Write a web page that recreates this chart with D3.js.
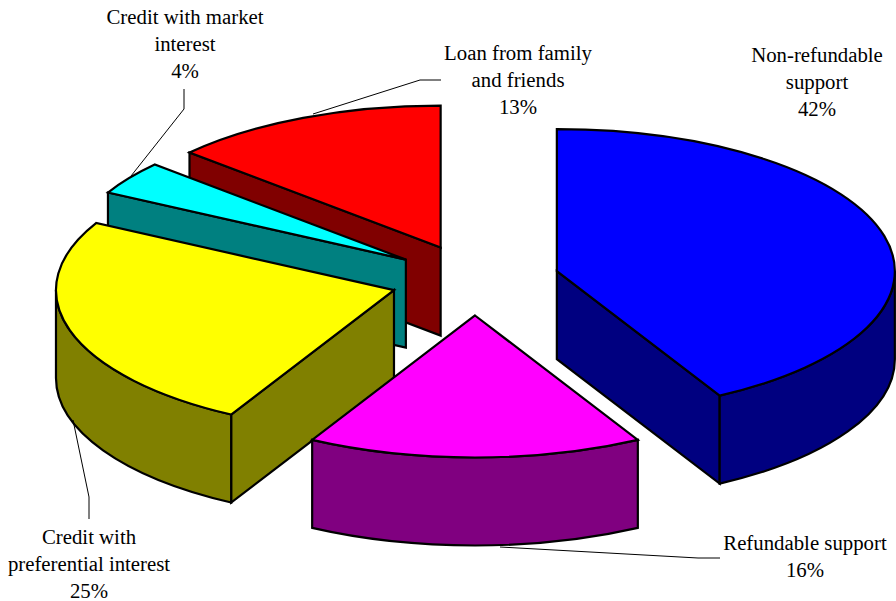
<!DOCTYPE html>
<html>
<head>
<meta charset="utf-8">
<script src="https://cdn.jsdelivr.net/npm/d3@7"></script>
<style>
    html, body { margin: 0; padding: 0; background: #fff; }
    svg { display: block; }
    text { font-family: "Liberation Serif", serif; font-size: 20.8px; fill: #000; text-anchor: middle; }
    .side, .top { stroke: #000; stroke-width: 2.2; stroke-linejoin: miter; }
    .leader { fill: none; stroke: #000; stroke-width: 1; }
</style>
</head>
<body>
<svg id="chart" width="896" height="601"></svg>
<script>
'use strict';
let categories = ["Non-refundable support", "Refundable support", "Credit with preferential interest", "Credit with market interest", "Loan from family and friends"];
// the labels show them rounded
let values = [42, 16, 24.83, 3.84, 13.33];
let topColors = ["#0000ff", "#ff00ff", "#ffff00", "#00ffff", "#ff0000"];
let sideColors = ["#000080", "#800080", "#808000", "#008080", "#800000"];
// label lines, first line centre and leader line, same order as categories
let labelLines = [
    ["Non-refundable", "support"],
    ["Refundable support"],
    ["Credit with", "preferential interest"],
    ["Credit with market", "interest"],
    ["Loan from family", "and friends"]
];
let labelAnchors = [[817, 62], [805, 550], [89, 544], [185, 24], [518, 60]];
let leaders = [
    [],
    [[720, 558], [698, 558], [500, 547]],
    [[89, 519], [89, 497], [73, 420]],
    [[184, 89], [184, 109], [131, 176]],
    [[441, 80], [420, 80], [313, 114]]
];

const cx = 475, cy = 280, rx = 338, ry = 142, depth = 88, explode = 0.25, lineHeight = 27;
// back to front
const drawOrder = [4, 3, 2, 0, 1];

let svg = d3.select("#chart");

let x = d3.scaleLinear().domain([-1, 1]).range([cx - rx, cx + rx]);
let y = d3.scaleLinear().domain([-1, 1]).range([cy - ry, cy + ry]);

let arcs = d3.pie().sort(null)(values);
let pct = d3.format(".0f");

// unit pie angle: 0 is up, clockwise, as d3.pie gives it
function pt(a, r, o) {
    return [x(o[0] + r * Math.sin(a)), y(o[1] - r * Math.cos(a))];
}

function topPath(d, o) {
    let c = pt(0, 0, o), s = pt(d.startAngle, 1, o), e = pt(d.endAngle, 1, o);
    return "M" + c + "L" + s + "A" + rx + "," + ry + " 0 0 1 " + e + "Z";
}

// flat cut face between apex and rim, only drawn when it looks towards the viewer
function cutPath(a, o) {
    let c = pt(0, 0, o), e = pt(a, 1, o);
    return "M" + c + "L" + e + "L" + [e[0], e[1] + depth] + "L" + [c[0], c[1] + depth] + "Z";
}

function wallPath(a0, a1, o) {
    let s = pt(a0, 1, o), e = pt(a1, 1, o);
    return "M" + s + "A" + rx + "," + ry + " 0 0 1 " + e
        + "L" + [e[0], e[1] + depth]
        + "A" + rx + "," + ry + " 0 0 0 " + [s[0], s[1] + depth] + "Z";
}

drawOrder.forEach(i => {
    let d = arcs[i];
    let mid = (d.startAngle + d.endAngle) / 2;
    let o = [explode * Math.sin(mid), -explode * Math.cos(mid)];
    let g = svg.append("g").attr("class", "slice");
    let tau = 2 * Math.PI;

    // start edge faces viewer on the left half, end edge on the right half
    if (Math.sin(d.startAngle) < -1e-6) {
        g.append("path").attr("class", "side").attr("fill", sideColors[i]).attr("d", cutPath(d.startAngle, o));
    }
    if (Math.sin(d.endAngle) > 1e-6) {
        g.append("path").attr("class", "side").attr("fill", sideColors[i]).attr("d", cutPath(d.endAngle, o));
    }
    // outer wall: part of the rim between a quarter and three quarters of a turn
    let a0 = Math.max(d.startAngle, tau / 4), a1 = Math.min(d.endAngle, 3 * tau / 4);
    if (a1 > a0) {
        g.append("path").attr("class", "side").attr("fill", sideColors[i]).attr("d", wallPath(a0, a1, o));
    }
    g.append("path").attr("class", "top").attr("fill", topColors[i]).attr("d", topPath(d, o));
});

let leaderLine = d3.line();
leaders.filter(l => l.length).forEach(l => {
    svg.append("path").attr("class", "leader").attr("d", leaderLine(l));
});

categories.forEach((c, i) => {
    let t = svg.append("text").attr("x", labelAnchors[i][0]).attr("y", labelAnchors[i][1]);
    let lines = labelLines[i].concat([pct(values[i]) + "%"]);
    lines.forEach((s, k) => {
        t.append("tspan").attr("x", labelAnchors[i][0]).attr("dy", k === 0 ? 0 : lineHeight).text(s);
    });
});
</script>
</body>
</html>
